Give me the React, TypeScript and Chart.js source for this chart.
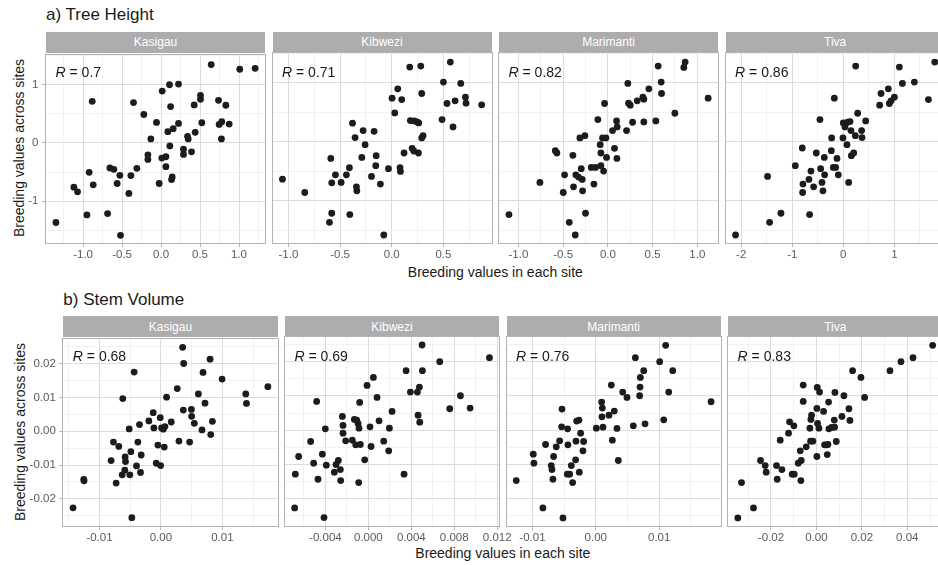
import React, { useEffect, useRef } from "react";
import { Chart, registerables } from "chart.js";

Chart.register(...registerables);

// ---------------- data ----------------
const sites = ["Kasigau", "Kibwezi", "Marimanti", "Tiva"];
const heightR = ["0.7", "0.71", "0.82", "0.86"];
const stemR = ["0.68", "0.69", "0.76", "0.83"];

// a) Tree Height
const heightKasigauX = [-1.348, -1.118, -1.071, -0.922, -0.883, -0.870, -0.951, -0.686, -0.656, -0.605, -0.563, -0.528, -0.520, -0.413, -0.387, -0.353, -0.310, -0.221, -0.169, -0.169, -0.131, -0.058, -0.024, 0.015, 0.010, 0.062, 0.062, 0.087, 0.109, 0.122, 0.113, 0.135, 0.143, 0.156, 0.224, 0.224, 0.288, 0.288, 0.340, 0.348, 0.391, 0.425, 0.438, 0.506, 0.506, 0.523, 0.643, 0.737, 0.745, 0.779, 0.775, 0.831, 0.874, 1.010, 1.207];
const heightKasigauY = [-1.366, -0.760, -0.839, -0.505, 0.714, -0.720, -1.236, -1.213, -0.431, -0.454, -0.697, -0.556, -1.587, -0.867, -0.561, 0.692, -0.437, 0.488, -0.204, -0.283, 0.068, 0.351, -0.697, 0.890, -0.261, -0.238, -0.408, 0.193, 0.998, 0.624, -0.051, -0.629, -0.584, 0.244, 1.009, 0.334, -0.108, -0.198, 0.113, 0.068, -0.153, 0.652, 0.181, 0.816, 0.748, 0.346, 1.344, 0.731, 0.317, 0.363, 0.068, 0.646, 0.323, 1.264, 1.281];

const heightKibweziX = [-1.058, -0.842, -0.603, -0.581, -0.590, -0.581, -0.545, -0.490, -0.439, -0.410, -0.406, -0.380, -0.355, -0.342, -0.338, -0.290, -0.277, -0.258, -0.196, -0.171, -0.151, -0.155, -0.110, -0.077, -0.032, 0.003, 0.029, 0.058, 0.080, 0.084, 0.097, 0.119, 0.174, 0.180, 0.197, 0.213, 0.216, 0.245, 0.258, 0.261, 0.281, 0.290, 0.290, 0.303, 0.487, 0.500, 0.535, 0.567, 0.593, 0.613, 0.668, 0.713, 0.719, 0.870];
const heightKibweziY = [-0.636, -0.862, -1.367, -1.214, -0.284, -0.698, -0.562, -0.692, -0.562, -0.443, -1.236, 0.312, 0.068, -0.766, -0.834, -0.267, 0.187, -0.051, -0.590, 0.175, -0.238, -0.408, -0.720, -1.582, -0.459, 0.736, 0.487, 0.895, -0.443, -0.505, 0.713, -0.193, 1.263, 0.356, -0.114, -0.159, 0.351, 0.334, -0.193, 0.317, 1.281, 0.816, 0.062, 0.101, 0.374, 1.009, 0.646, 1.349, 0.249, 0.691, 0.986, 0.753, 0.651, 0.623];

const heightMarimantiX = [-1.106, -0.760, -0.588, -0.570, -0.499, -0.484, -0.432, -0.391, -0.384, -0.365, -0.358, -0.328, -0.313, -0.298, -0.287, -0.283, -0.257, -0.250, -0.186, -0.156, -0.138, -0.112, -0.086, -0.078, -0.078, -0.060, -0.048, -0.037, -0.022, -0.015, 0.052, 0.074, 0.097, 0.101, 0.104, 0.209, 0.223, 0.231, 0.250, 0.276, 0.328, 0.391, 0.402, 0.402, 0.458, 0.536, 0.562, 0.596, 0.600, 0.749, 0.849, 0.864, 1.121];
const heightMarimantiY = [-1.236, -0.692, -0.153, -0.193, -0.862, -0.562, -1.367, -0.232, -0.766, -1.582, -0.562, -0.601, 0.062, -0.459, -0.641, -0.834, 0.101, -1.214, -0.437, -0.720, -0.437, 0.374, -0.051, -0.193, -0.408, 0.062, -0.499, 0.646, 0.062, -0.267, 0.187, -0.114, 0.351, -0.284, 0.249, 0.187, 0.986, 0.651, 0.617, 0.328, 0.691, 0.753, 0.719, 0.334, 0.895, 0.351, 1.281, 1.009, 0.816, 0.481, 1.258, 1.349, 0.736];

const heightTivaX = [-2.111, -1.484, -1.444, -1.222, -0.941, -0.804, -0.791, -0.797, -0.673, -0.660, -0.634, -0.582, -0.529, -0.458, -0.444, -0.418, -0.399, -0.373, -0.366, -0.235, -0.229, -0.196, -0.176, -0.150, -0.124, -0.098, -0.007, 0.000, 0.033, 0.072, 0.085, 0.105, 0.131, 0.150, 0.157, 0.203, 0.235, 0.242, 0.281, 0.359, 0.366, 0.438, 0.712, 0.739, 0.882, 0.902, 0.935, 1.000, 1.098, 1.157, 1.392, 1.667, 1.791];
const heightTivaY = [-1.582, -0.590, -1.367, -1.214, -0.408, -0.108, -0.720, -0.862, -0.641, -1.236, -0.499, -0.766, -0.193, 0.374, -0.459, -0.692, -0.834, -0.267, -0.562, -0.153, 0.062, -0.437, 0.736, -0.437, -0.284, -0.562, 0.062, 0.317, 0.249, -0.051, 0.328, -0.692, 0.340, 0.187, -0.238, -0.193, 0.101, 1.281, 0.481, 0.187, 0.068, 0.351, 0.617, 0.816, 0.895, 0.646, 0.691, 0.753, 1.263, 0.986, 1.009, 0.713, 1.349];

// b) Stem Volume
const stemKasigauX = [-1.429e-2, -1.255e-2, -1.250e-2, -0.810e-2, -0.772e-2, -0.685e-2, -0.728e-2, -0.620e-2, -0.630e-2, -0.582e-2, -0.576e-2, -0.587e-2, -0.516e-2, -0.505e-2, -0.489e-2, -0.473e-2, -0.435e-2, -0.397e-2, -0.375e-2, -0.348e-2, -0.332e-2, -0.321e-2, -0.196e-2, -0.125e-2, -0.114e-2, -0.076e-2, -0.049e-2, -0.011e-2, -0.005e-2, 0.011e-2, 0.038e-2, 0.054e-2, 0.065e-2, 0.092e-2, 0.168e-2, 0.266e-2, 0.293e-2, 0.353e-2, 0.370e-2, 0.364e-2, 0.467e-2, 0.495e-2, 0.500e-2, 0.543e-2, 0.609e-2, 0.668e-2, 0.685e-2, 0.717e-2, 0.799e-2, 0.810e-2, 0.837e-2, 0.995e-2, 1.380e-2, 1.391e-2, 1.739e-2];
const stemKasigauY = [-2.264e-2, -1.425e-2, -1.464e-2, -0.869e-2, -0.322e-2, -0.449e-2, -1.532e-2, 0.966e-2, -1.288e-2, -0.761e-2, -0.898e-2, -1.152e-2, 0.068e-2, -1.288e-2, -0.605e-2, -2.557e-2, 1.747e-2, -1.025e-2, -0.322e-2, 0.195e-2, -1.220e-2, -0.703e-2, 0.303e-2, 0.547e-2, 0.098e-2, -0.947e-2, -0.410e-2, 0.400e-2, -1.015e-2, 0.098e-2, 0.059e-2, -0.469e-2, 0.137e-2, 1.005e-2, 0.273e-2, 1.259e-2, -0.293e-2, 2.479e-2, 2.001e-2, 0.625e-2, -0.322e-2, 0.644e-2, 0.439e-2, 0.234e-2, 1.103e-2, 0.039e-2, 1.737e-2, 0.830e-2, 2.128e-2, -0.098e-2, 0.293e-2, 1.542e-2, 1.103e-2, 0.820e-2, 1.318e-2];

const stemKibweziX = [-6.868e-3, -6.805e-3, -6.495e-3, -5.096e-3, -4.817e-3, -5.376e-3, -4.692e-3, -4.288e-3, -4.133e-3, -4.009e-3, -3.915e-3, -3.170e-3, -3.014e-3, -2.797e-3, -2.610e-3, -2.579e-3, -2.424e-3, -2.362e-3, -2.362e-3, -2.113e-3, -1.492e-3, -1.305e-3, -1.181e-3, -1.088e-3, -0.963e-3, -0.870e-3, -0.901e-3, -0.808e-3, -0.746e-3, -0.342e-3, -0.124e-3, 0.155e-3, 0.249e-3, 0.466e-3, 0.808e-3, 0.994e-3, 1.429e-3, 1.896e-3, 1.958e-3, 2.206e-3, 3.325e-3, 3.511e-3, 3.915e-3, 4.568e-3, 4.630e-3, 4.755e-3, 4.786e-3, 5.003e-3, 5.034e-3, 6.650e-3, 7.582e-3, 8.577e-3, 9.478e-3, 11.280e-3];
const stemKibweziY = [-2.274e-2, -1.288e-2, -0.771e-2, -0.966e-2, 0.839e-2, -0.332e-2, -1.435e-2, -0.703e-2, -2.557e-2, 0.039e-2, -1.025e-2, -1.230e-2, -1.005e-2, -0.888e-2, -1.152e-2, -1.474e-2, 0.400e-2, 0.137e-2, -0.088e-2, -0.312e-2, -0.293e-2, 0.312e-2, -0.429e-2, 0.293e-2, 0.195e-2, 0.059e-2, -1.532e-2, 0.810e-2, -0.420e-2, -0.869e-2, 1.308e-2, 0.098e-2, -0.478e-2, 1.542e-2, 0.957e-2, 0.273e-2, -0.322e-2, -0.605e-2, 0.059e-2, 0.547e-2, -1.288e-2, 1.737e-2, 1.113e-2, 1.113e-2, 0.439e-2, 1.259e-2, 0.234e-2, 2.489e-2, 1.737e-2, 2.001e-2, 0.625e-2, 1.005e-2, 0.644e-2, 2.118e-2];

const stemMarimantiX = [-1.256e-2, -0.987e-2, -0.977e-2, -0.835e-2, -0.793e-2, -0.703e-2, -0.692e-2, -0.666e-2, -0.677e-2, -0.624e-2, -0.571e-2, -0.534e-2, -0.540e-2, -0.519e-2, -0.450e-2, -0.445e-2, -0.440e-2, -0.413e-2, -0.387e-2, -0.366e-2, -0.319e-2, -0.313e-2, -0.303e-2, -0.266e-2, -0.261e-2, -0.240e-2, -0.203e-2, -0.192e-2, 0.008e-2, 0.092e-2, 0.103e-2, 0.097e-2, 0.113e-2, 0.208e-2, 0.245e-2, 0.261e-2, 0.292e-2, 0.334e-2, 0.355e-2, 0.424e-2, 0.492e-2, 0.592e-2, 0.624e-2, 0.692e-2, 0.698e-2, 0.703e-2, 0.756e-2, 0.777e-2, 1.008e-2, 1.072e-2, 1.103e-2, 1.151e-2, 1.214e-2, 1.819e-2];
const stemMarimantiY = [-1.474e-2, -0.703e-2, -0.966e-2, -2.274e-2, -0.420e-2, -1.035e-2, -1.152e-2, -0.771e-2, -1.435e-2, -0.488e-2, -0.312e-2, 0.615e-2, 0.098e-2, -2.567e-2, -1.288e-2, 0.039e-2, -0.429e-2, -1.288e-2, -1.035e-2, -1.532e-2, -0.869e-2, -0.322e-2, 0.264e-2, 0.293e-2, -1.230e-2, -0.088e-2, -0.605e-2, -0.332e-2, 0.059e-2, 0.820e-2, 0.644e-2, 0.390e-2, 0.088e-2, 0.439e-2, 1.318e-2, -0.293e-2, 0.556e-2, 0.049e-2, -0.888e-2, 1.113e-2, 0.957e-2, 0.127e-2, 2.118e-2, 1.005e-2, 1.259e-2, 1.542e-2, 1.737e-2, 0.185e-2, 2.001e-2, 0.303e-2, 2.479e-2, 1.113e-2, 1.737e-2, 0.830e-2];

const stemTivaX = [-3.458e-2, -3.297e-2, -2.768e-2, -2.460e-2, -2.254e-2, -2.210e-2, -1.755e-2, -1.725e-2, -1.593e-2, -1.520e-2, -1.226e-2, -1.182e-2, -1.065e-2, -0.991e-2, -0.976e-2, -0.800e-2, -0.712e-2, -0.683e-2, -0.668e-2, -0.580e-2, -0.580e-2, -0.448e-2, -0.286e-2, -0.257e-2, -0.242e-2, -0.213e-2, -0.154e-2, 0.022e-2, 0.022e-2, 0.037e-2, 0.051e-2, 0.110e-2, 0.140e-2, 0.316e-2, 0.360e-2, 0.433e-2, 0.477e-2, 0.507e-2, 0.536e-2, 0.551e-2, 0.668e-2, 0.786e-2, 0.800e-2, 0.815e-2, 0.874e-2, 1.123e-2, 1.211e-2, 1.432e-2, 1.476e-2, 1.593e-2, 1.960e-2, 2.122e-2, 3.238e-2, 3.722e-2, 4.251e-2, 5.117e-2];
const stemTivaY = [-2.567e-2, -1.532e-2, -2.274e-2, -0.888e-2, -1.035e-2, -1.230e-2, -1.035e-2, -1.435e-2, -0.293e-2, -1.152e-2, -0.088e-2, 0.244e-2, -1.288e-2, 0.127e-2, -1.288e-2, -0.966e-2, -0.605e-2, -1.474e-2, -0.888e-2, 1.318e-2, 0.839e-2, -0.488e-2, 0.059e-2, -0.322e-2, 0.312e-2, 0.439e-2, -0.322e-2, 0.634e-2, -0.771e-2, 1.249e-2, 0.195e-2, 0.059e-2, 1.113e-2, 0.547e-2, -0.429e-2, -0.429e-2, -0.713e-2, -0.420e-2, 0.820e-2, 0.039e-2, 0.078e-2, 0.293e-2, 0.088e-2, 1.103e-2, -0.332e-2, 0.400e-2, 1.005e-2, 0.625e-2, 0.283e-2, 1.737e-2, 1.542e-2, 0.957e-2, 1.737e-2, 2.001e-2, 2.118e-2, 2.479e-2];

// tick labels (major breaks)
const heightYTicks = [-1, 0, 1];
const heightKasigauXTicks = [-1, -0.5, 0, 0.5, 1];
const heightKibweziXTicks = [-1, -0.5, 0, 0.5];
const heightMarimantiXTicks = [-1, -0.5, 0, 0.5, 1];
const heightTivaXTicks = [-2, -1, 0, 1];
const stemYTicks = [-0.02, -0.01, 0, 0.01, 0.02];
const stemKasigauXTicks = [-0.01, 0, 0.01];
const stemKibweziXTicks = [-0.004, 0, 0.004, 0.008, 0.012];
const stemMarimantiXTicks = [-0.01, 0, 0.01];
const stemTivaXTicks = [-0.02, 0, 0.02, 0.04];

// axis limits for the shared y axes
const heightYLimits = [-1.718, 1.502];
const stemYLimits = [-0.02802, 0.02714];

// ---------------- layout / style ----------------
const FONT = '"Liberation Sans", Arial, Helvetica, sans-serif';
const ROW_A = { top: 53, bottom: 242.3, lefts: [46, 272.5, 499, 725.6], width: 219.1 };
const ROW_B = { top: 337.3, bottom: 525.7, lefts: [63.3, 284.9, 506.5, 728.1], width: 214.3 };
const STRIP_H = 21.5;

function isMajor(v: number, majors: number[]) {
  return majors.some((m) => Math.abs(m - v) < 1e-9);
}

function minorBreaks(majors: number[], min: number, max: number) {
  const step = majors[1] - majors[0];
  const out: number[] = [];
  for (let k = 0; k <= majors.length; k++) {
    const v = majors[0] - step / 2 + k * step;
    if (v >= min && v <= max) out.push(v);
  }
  return out;
}

const borderPlugin = {
  id: "panelBorder",
  afterDraw(chart: any) {
    const { ctx, chartArea: a } = chart;
    ctx.save();
    ctx.strokeStyle = "#b3b3b3";
    ctx.lineWidth = 1;
    const l = Math.round(a.left) - 0.5;
    const t = Math.round(a.top) - 0.5;
    const r = Math.round(a.right) + 0.5;
    const b = Math.round(a.bottom) + 0.5;
    ctx.strokeRect(l, t, r - l, b - t);
    ctx.restore();
  },
};

type PanelProps = {
  xs: number[];
  ys: number[];
  xTicks: number[];
  xDigits: number;
  yTicks: number[];
  yDigits: number;
  yLim: number[];
  showY: boolean;
  left: number;
  top: number;
  width: number;
  height: number;
};

const PAD_L = 50;
const PAD_R = 50;
const PAD_T = 8;
const AXIS_H = 26;
const Y_AXIS_W = 40;

function Panel(p: PanelProps) {
  const ref = useRef<HTMLCanvasElement>(null);
  const cl = Math.floor(p.left) - PAD_L;
  const ct = Math.floor(p.top) - PAD_T;
  const cw = Math.ceil(p.left + p.width) + PAD_R - cl;
  const ch = Math.ceil(p.top + p.height) + AXIS_H - ct;

  useEffect(() => {
    const lo = Math.min(...p.xs);
    const hi = Math.max(...p.xs);
    const span = hi - lo;
    const xMin = lo - 0.05 * span;
    const xMax = hi + 0.05 * span;
    const xAll = [...p.xTicks, ...minorBreaks(p.xTicks, xMin, xMax)].sort((a, b) => a - b);
    const yAll = [...p.yTicks, ...minorBreaks(p.yTicks, p.yLim[0], p.yLim[1])].sort((a, b) => a - b);
    const yW = p.showY ? Y_AXIS_W : 0;

    const gridColor = (majors: number[]) => (ctx: any) =>
      ctx.tick && isMajor(ctx.tick.value, majors) ? "#dcdcdc" : "#e9e9e9";
    const gridWidth = (majors: number[]) => (ctx: any) =>
      ctx.tick && isMajor(ctx.tick.value, majors) ? 1 : 0.6;
    const tickColor = (majors: number[], show: boolean) => (ctx: any) =>
      show && ctx.tick && isMajor(ctx.tick.value, majors) ? "#b3b3b3" : "rgba(0,0,0,0)";

    const chart = new Chart(ref.current as HTMLCanvasElement, {
      type: "scatter",
      data: {
        datasets: [
          {
            data: p.xs.map((x, i) => ({ x, y: p.ys[i] })),
            pointRadius: 3.4,
            pointHoverRadius: 3.4,
            pointBackgroundColor: "#1c1c1c",
            pointBorderWidth: 0,
          },
        ],
      },
      options: {
        animation: false,
        responsive: false,
        devicePixelRatio: 1,
        events: [],
        layout: {
          padding: {
            left: p.left - cl - yW,
            right: cl + cw - (p.left + p.width),
            top: p.top - ct,
            bottom: 0,
          },
        },
        plugins: { legend: { display: false }, tooltip: { enabled: false } },
        scales: {
          x: {
            type: "linear",
            position: "bottom",
            min: xMin,
            max: xMax,
            bounds: "data",
            afterBuildTicks: (s: any) => {
              s.ticks = xAll.map((v) => ({ value: v }));
            },
            afterFit: (s: any) => {
              s.height = AXIS_H;
            },
            ticks: {
              autoSkip: false,
              maxRotation: 0,
              minRotation: 0,
              padding: 1,
              color: "#5a5a5a",
              font: { family: FONT, size: 11.5 },
              callback: (v: any) => (isMajor(Number(v), p.xTicks) ? Number(v).toFixed(p.xDigits) : ""),
            },
            grid: {
              color: gridColor(p.xTicks),
              lineWidth: gridWidth(p.xTicks),
              drawTicks: true,
              tickLength: 4,
              tickColor: tickColor(p.xTicks, true),
              tickWidth: 1,
            },
            border: { display: false },
          },
          y: {
            type: "linear",
            position: "left",
            min: p.yLim[0],
            max: p.yLim[1],
            bounds: "data",
            afterBuildTicks: (s: any) => {
              s.ticks = yAll.map((v) => ({ value: v }));
            },
            afterFit: (s: any) => {
              s.width = yW;
            },
            ticks: {
              display: p.showY,
              autoSkip: false,
              padding: 3.5,
              color: "#5a5a5a",
              font: { family: FONT, size: 11.5 },
              callback: (v: any) => (isMajor(Number(v), p.yTicks) ? Number(v).toFixed(p.yDigits) : ""),
            },
            grid: {
              color: gridColor(p.yTicks),
              lineWidth: gridWidth(p.yTicks),
              drawTicks: true,
              tickLength: 4,
              tickColor: tickColor(p.yTicks, p.showY),
              tickWidth: 1,
            },
            border: { display: false },
          },
        },
      } as any,
      plugins: [borderPlugin],
    });
    return () => chart.destroy();
  }, []);

  return (
    <canvas
      ref={ref}
      width={cw}
      height={ch}
      style={{ position: "absolute", left: cl, top: ct, width: cw, height: ch }}
    />
  );
}

function Strip({ label, left, top, width }: { label: string; left: number; top: number; width: number }) {
  return (
    <div
      style={{
        position: "absolute",
        left,
        top: top - STRIP_H,
        width,
        height: STRIP_H,
        background: "#adadad",
        color: "#ffffff",
        fontSize: 12,
        display: "flex",
        alignItems: "center",
        justifyContent: "center",
      }}
    >
      {label}
    </div>
  );
}

function RLabel({ r, left, top }: { r: string; left: number; top: number }) {
  return (
    <div
      style={{
        position: "absolute",
        left: left + 9.5,
        top: top + 18.5,
        transform: "translateY(-50%)",
        fontSize: 14,
        lineHeight: "16px",
        color: "#1a1a1a",
        whiteSpace: "nowrap",
      }}
    >
      <i>R</i> = {r}
    </div>
  );
}

export default function App() {
  const heightPanels = [
    { xs: heightKasigauX, ys: heightKasigauY, xTicks: heightKasigauXTicks, xDigits: 1 },
    { xs: heightKibweziX, ys: heightKibweziY, xTicks: heightKibweziXTicks, xDigits: 1 },
    { xs: heightMarimantiX, ys: heightMarimantiY, xTicks: heightMarimantiXTicks, xDigits: 1 },
    { xs: heightTivaX, ys: heightTivaY, xTicks: heightTivaXTicks, xDigits: 0 },
  ];
  const stemPanels = [
    { xs: stemKasigauX, ys: stemKasigauY, xTicks: stemKasigauXTicks, xDigits: 2 },
    { xs: stemKibweziX, ys: stemKibweziY, xTicks: stemKibweziXTicks, xDigits: 3 },
    { xs: stemMarimantiX, ys: stemMarimantiY, xTicks: stemMarimantiXTicks, xDigits: 2 },
    { xs: stemTivaX, ys: stemTivaY, xTicks: stemTivaXTicks, xDigits: 2 },
  ];

  const axisTitle: React.CSSProperties = {
    position: "absolute",
    fontSize: 14,
    color: "#1a1a1a",
    whiteSpace: "nowrap",
  };

  return (
    <div
      style={{
        position: "fixed",
        left: 0,
        top: 0,
        width: 938,
        height: 565,
        overflow: "hidden",
        background: "#ffffff",
        fontFamily: FONT,
      }}
    >
      {/* row a */}
      <div style={{ position: "absolute", left: 46, top: 15, transform: "translateY(-50%)", fontSize: 17, color: "#1a1a1a", whiteSpace: "nowrap" }}>
        a) Tree Height
      </div>
      <div style={{ ...axisTitle, left: 18.5, top: (ROW_A.top + ROW_A.bottom) / 2, transform: "translate(-50%,-50%) rotate(-90deg)" }}>
        Breeding values across sites
      </div>
      <div style={{ ...axisTitle, left: (ROW_A.lefts[0] + ROW_A.lefts[3] + ROW_A.width) / 2, top: 271.5, transform: "translate(-50%,-50%)" }}>
        Breeding values in each site
      </div>
      {heightPanels.map((pp, i) => (
        <Strip key={"sa" + i} label={sites[i]} left={ROW_A.lefts[i]} top={ROW_A.top} width={ROW_A.width} />
      ))}
      {heightPanels.map((pp, i) => (
        <Panel
          key={"pa" + i}
          xs={pp.xs}
          ys={pp.ys}
          xTicks={pp.xTicks}
          xDigits={pp.xDigits}
          yTicks={heightYTicks}
          yDigits={0}
          yLim={heightYLimits}
          showY={i === 0}
          left={ROW_A.lefts[i]}
          top={ROW_A.top}
          width={ROW_A.width}
          height={ROW_A.bottom - ROW_A.top}
        />
      ))}
      {heightPanels.map((pp, i) => (
        <RLabel key={"ra" + i} r={heightR[i]} left={ROW_A.lefts[i]} top={ROW_A.top} />
      ))}

      {/* row b */}
      <div style={{ position: "absolute", left: 63.3, top: 299.5, transform: "translateY(-50%)", fontSize: 17, color: "#1a1a1a", whiteSpace: "nowrap" }}>
        b) Stem Volume
      </div>
      <div style={{ ...axisTitle, left: 20, top: (ROW_B.top + ROW_B.bottom) / 2, transform: "translate(-50%,-50%) rotate(-90deg)" }}>
        Breeding values across sites
      </div>
      <div style={{ ...axisTitle, left: (ROW_B.lefts[0] + ROW_B.lefts[3] + ROW_B.width) / 2, top: 553, transform: "translate(-50%,-50%)" }}>
        Breeding values in each site
      </div>
      {stemPanels.map((pp, i) => (
        <Strip key={"sb" + i} label={sites[i]} left={ROW_B.lefts[i]} top={ROW_B.top} width={ROW_B.width} />
      ))}
      {stemPanels.map((pp, i) => (
        <Panel
          key={"pb" + i}
          xs={pp.xs}
          ys={pp.ys}
          xTicks={pp.xTicks}
          xDigits={pp.xDigits}
          yTicks={stemYTicks}
          yDigits={2}
          yLim={stemYLimits}
          showY={i === 0}
          left={ROW_B.lefts[i]}
          top={ROW_B.top}
          width={ROW_B.width}
          height={ROW_B.bottom - ROW_B.top}
        />
      ))}
      {stemPanels.map((pp, i) => (
        <RLabel key={"rb" + i} r={stemR[i]} left={ROW_B.lefts[i]} top={ROW_B.top} />
      ))}
    </div>
  );
}
